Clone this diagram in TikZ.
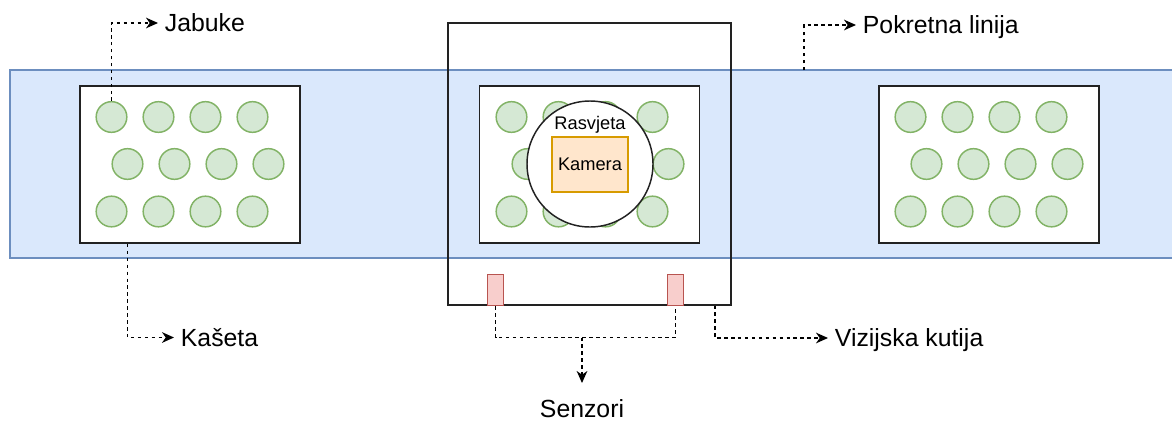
\documentclass[tikz,border=0pt]{standalone}
\usepackage{fontspec}
\setmainfont{Liberation Sans}
\usetikzlibrary{arrows.meta}
\definecolor{bandfill}{HTML}{DAE8FC}
\definecolor{bandline}{HTML}{6C8EBF}
\definecolor{applefill}{HTML}{D5E8D4}
\definecolor{appleline}{HTML}{82B366}
\definecolor{camfill}{HTML}{FFE6CC}
\definecolor{camline}{HTML}{D79B00}
\definecolor{senfill}{HTML}{F8CECC}
\definecolor{senline}{HTML}{B85450}
\definecolor{boxline}{HTML}{222222}
\tikzset{
  cassette/.style={draw=boxline, line width=1.3pt, fill=white, minimum width=165pt, minimum height=117.75pt, inner sep=0pt},
  apple/.style={circle, draw=appleline, line width=1.1pt, fill=applefill, minimum size=23pt, inner sep=0pt},
  lighting/.style={circle, draw=boxline, line width=1.1pt, fill=white, minimum size=94.5pt, inner sep=0pt},
  camera/.style={draw=camline, line width=0.9pt, fill=camfill, minimum width=57pt, minimum height=41.25pt, inner sep=0pt, font=\fontsize{13.7}{16}\selectfont},
  visionbox/.style={draw=boxline, line width=1.3pt, minimum width=212.25pt, minimum height=211.5pt, inner sep=0pt},
  sensor/.style={draw=senline, line width=0.9pt, fill=senfill, minimum width=12pt, minimum height=23.6pt, inner sep=0pt},
  lbl/.style={font=\fontsize{18.6}{22}\selectfont, text height=13.4pt, text depth=0pt, inner xsep=5pt, inner ysep=0pt, anchor=west},
  inlbl/.style={font=\fontsize{13.7}{16}\selectfont, text height=9.9pt, text depth=0pt, inner sep=0pt},
  dline/.style={draw=black, line width=0.95pt, dash pattern=on 2.6pt off 2.6pt},
  conn/.style={dline, -{Stealth[length=9pt, width=8pt, inset=2.8pt]}}
}
\begin{document}
\begin{tikzpicture}[x=0.75pt, y=-0.75pt]
\useasboundingbox (0,0) rectangle (1172,422);
% conveyor band
\fill[bandfill] (10,70) rectangle (1172,258);
\draw[bandline, line width=0.9pt] (1172,70) -- (10,70) -- (10,258) -- (1172,258);
% cassettes
\node[cassette] (lc) at (190,164.5) {};
\node[cassette] (mc) at (589.5,164.5) {};
\node[cassette] (rc) at (989,164.5) {};
% apples
\foreach \c/\cx in {L/80, M/480, R/879} {
  \foreach \i/\dx in {1/31.5, 2/78.5, 3/125.5, 4/172.5} {
    \node[apple] (\c1\i) at (\cx+\dx, 117) {};
    \node[apple] (\c2\i) at (\cx+\dx+16, 164) {};
    \node[apple] (\c3\i) at (\cx+\dx, 211.5) {};
  }
}
% lighting and camera
\node[lighting] (light) at (590,164) {};
\node[inlbl] (ras) at (590,122.5) {Rasvjeta};
\node[camera] (cam) at (590,164.5) {Kamera};
% vision box
\node[visionbox] (vb) at (589.5,164) {};
% sensors
\node[sensor] (s1) at (495.5,290) {};
\node[sensor] (s2) at (675.5,290) {};
% labels
\node[lbl] (jab) at (158,23) {Jabuke};
\node[lbl] (kas) at (174,337.5) {Kašeta};
\node[lbl] (pl) at (856,25) {Pokretna linija};
\node[lbl] (vkl) at (828,338) {Vizijska kutija};
\node[lbl, anchor=north, inner xsep=0pt, inner ysep=12.5pt] (sen) at (582,383) {Senzori};
% connectors
\coordinate (plc) at (804,70);
\coordinate (vkc) at (715,305.5);
\coordinate (sm) at (582,337.5);
\draw[conn] (L11.north) |- (jab.west);
\draw[conn] (L21 |- lc.south) |- (kas.west);
\draw[conn] (plc) |- (pl.west);
\draw[conn] (vkc) |- (vkl.west);
\draw[dline] (s1.south) |- (sm) -| (s2.south);
\draw[conn] (sm) -- (sen.north);
\end{tikzpicture}
\end{document}
